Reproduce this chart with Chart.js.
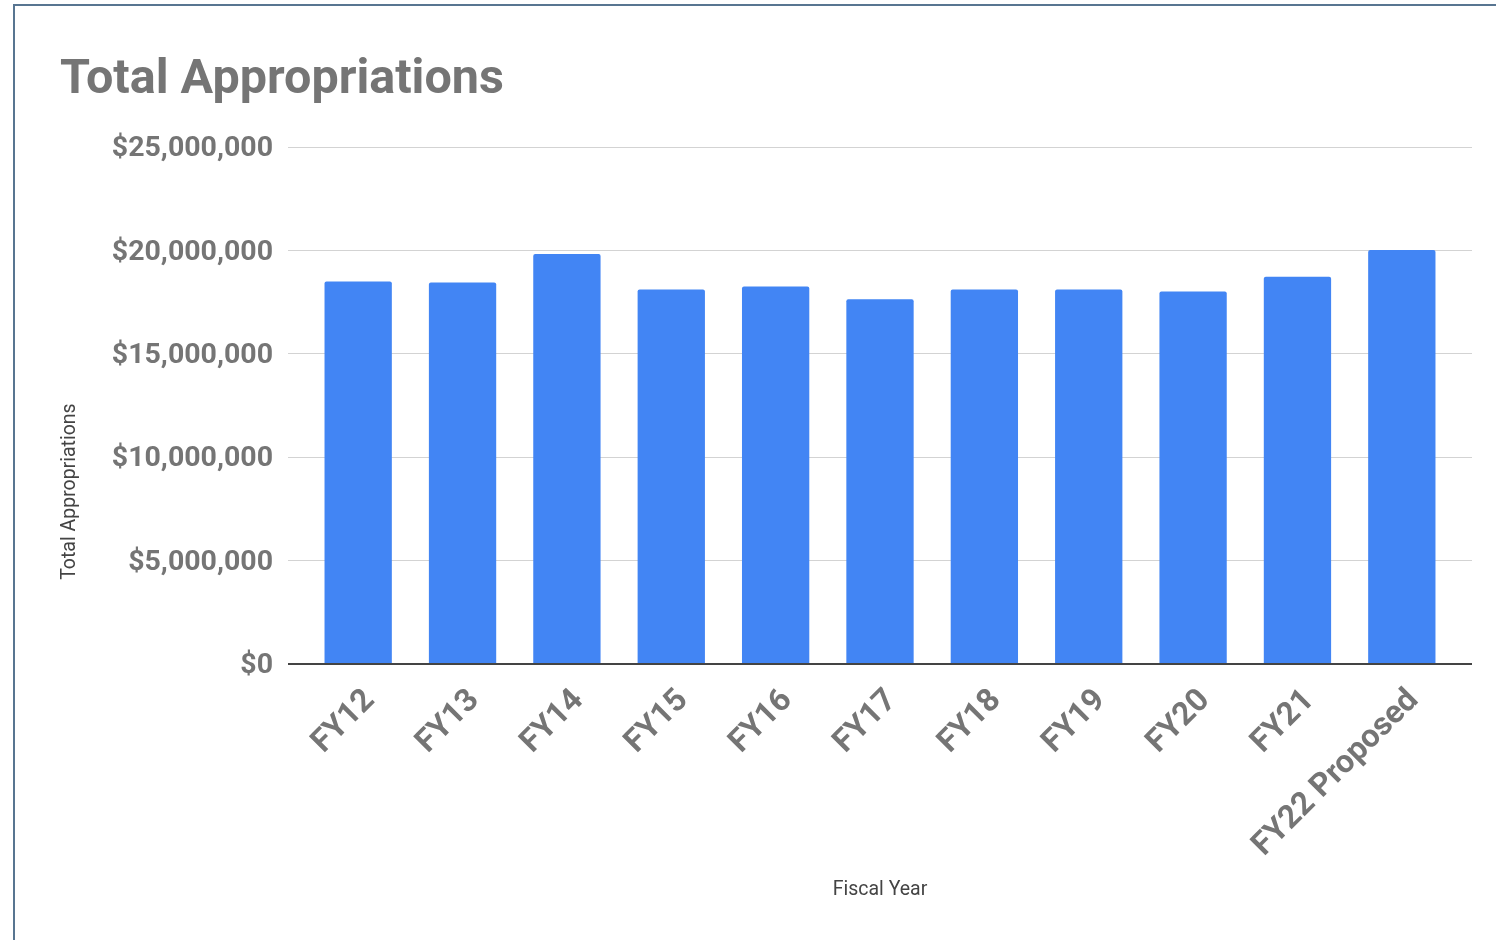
<!DOCTYPE html>
<html>
<head>
<meta charset="utf-8">
<title>Total Appropriations</title>
<script src="https://cdn.jsdelivr.net/npm/chart.js@4/dist/chart.umd.min.js"></script>
<style>
  html, body { margin: 0; padding: 0; background: #fff; }
  body { width: 1496px; height: 940px; position: relative; overflow: hidden; }
  #frame {
    position: absolute; left: 13px; top: 4px; width: 1500px; height: 960px;
    border-left: 2px solid #587591; border-top: 2px solid #587591;
  }
  #chart { position: absolute; left: 0; top: 0; }
</style>
</head>
<body>
<div id="frame"></div>
<canvas id="chart" width="1496" height="940"></canvas>
<script>
const fiscalYears = ["FY12", "FY13", "FY14", "FY15", "FY16", "FY17", "FY18", "FY19", "FY20", "FY21", "FY22 Proposed"];
const appropriations = [18500000, 18450000, 19830000, 18120000, 18260000, 17640000, 18120000, 18120000, 18020000, 18730000, 20030000];
const yTicks = [0, 5000000, 10000000, 15000000, 20000000, 25000000];

const grey = "#757575";
const gridGrey = "#d3d3d3";
const baseDark = "#444444";
const axisTitleFont = { family: "Roboto", size: 19.5 };

function money(v) {
  return "$" + v.toLocaleString("en-US");
}

// darker line for the zero value, light grey for the rest
const lineColor = ctx => (ctx.tick && ctx.tick.value === 0) ? baseDark : gridGrey;
const lineWidth = ctx => (ctx.tick && ctx.tick.value === 0) ? 2 : 1;

// vertical axis title sits a bit below the middle of the plot
const yTitlePlugin = {
  id: "yTitle",
  afterDraw(chart) {
    const { ctx, chartArea } = chart;
    const mid = (chartArea.top + chartArea.bottom) / 2 + 86;
    ctx.save();
    ctx.translate(70, mid);
    ctx.rotate(-Math.PI / 2);
    ctx.fillStyle = "#444";
    ctx.font = `${axisTitleFont.size}px ${axisTitleFont.family}`;
    ctx.textAlign = "center";
    ctx.textBaseline = "middle";
    ctx.fillText("Total Appropriations", 0, 0);
    ctx.restore();
  }
};

new Chart(document.getElementById("chart"), {
  type: "bar",
  data: {
    labels: fiscalYears,
    datasets: [{
      label: "Total Appropriations",
      data: appropriations,
      backgroundColor: "#4285F4",
      borderRadius: 2,
      borderSkipped: "bottom",
      barPercentage: 0.645,
      categoryPercentage: 1
    }]
  },
  plugins: [yTitlePlugin],
  options: {
    responsive: false,
    animation: false,
    layout: { padding: { top: 20, left: 60, right: 24, bottom: 38 } },
    plugins: {
      legend: { display: false },
      tooltip: { enabled: false },
      title: {
        display: true,
        text: "Total Appropriations",
        align: "start",
        color: grey,
        font: { family: "Roboto", size: 48.5, weight: "bold" },
        padding: { top: 32, bottom: 37 }
      }
    },
    scales: {
      x: {
        grid: { display: false },
        border: { display: false },
        ticks: {
          color: grey,
          font: { family: "Roboto", size: 32, weight: "bold" },
          minRotation: 45,
          maxRotation: 45,
          padding: 10,
          labelOffset: 12,
          autoSkip: false
        },
        title: {
          display: true,
          text: "Fiscal Year",
          color: "#444",
          font: axisTitleFont,
          padding: 0
        },
        afterFit: scale => { scale.height = 238; }
      },
      y: {
        min: 0,
        max: 25000000,
        afterBuildTicks: scale => { scale.ticks = yTicks.map(v => ({ value: v })); },
        border: { display: false },
        grid: {
          color: lineColor,
          tickColor: lineColor,
          lineWidth: lineWidth,
          drawTicks: true,
          tickLength: 18
        },
        ticks: {
          color: grey,
          font: { family: "Roboto", size: 28.5, weight: "bold" },
          padding: 15,
          labelOffset: 2,
          callback: v => money(v)
        },
        afterFit: scale => { scale.width = 246; }
      },
      // right edge stub so the gridlines run a little past the last bar
      yRight: {
        position: "right",
        min: 0,
        max: 25000000,
        afterBuildTicks: scale => { scale.ticks = yTicks.map(v => ({ value: v })); },
        border: { display: false },
        grid: {
          drawOnChartArea: false,
          color: lineColor,
          tickColor: lineColor,
          lineWidth: lineWidth,
          drawTicks: true,
          tickLength: 18
        },
        ticks: { display: false },
        afterFit: scale => { scale.width = 18; }
      }
    }
  }
});
</script>
</body>
</html>
